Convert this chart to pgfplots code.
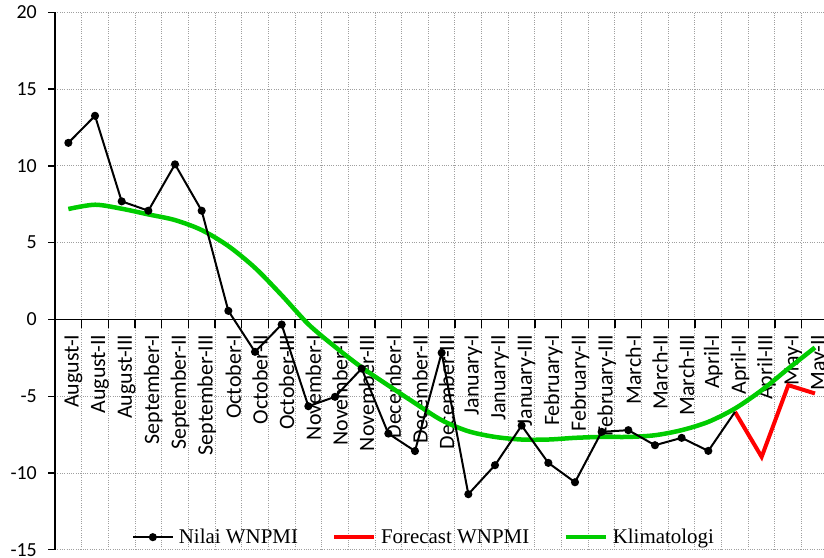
\documentclass[border=0pt]{standalone}
\usepackage{fontspec}
\setmainfont{Liberation Serif}
\newfontfamily\carlito{Carlito}
\usepackage{pgfplots}
\pgfplotsset{compat=1.18}
\definecolor{klgreen}{RGB}{0,204,0}
\begin{document}
\begin{tikzpicture}
\begin{axis}[
  scale only axis, width=773bp, height=537.3bp,
  xmin=-0.5, xmax=28.5, ymin=-15, ymax=20,
  axis x line*=middle, axis y line*=left,
  axis line style={line width=1.5bp, black},
  every inner x axis line/.append style={line width=1.5bp, black},
  every outer y axis line/.append style={line width=1.5bp, black},
  xtick={0,1,...,28},
  xticklabels={August-I,August-II,August-III,September-I,September-II,September-III,October-I,October-II,October-III,November-I,November-II,November-III,December-I,December-II,December-III,January-I,January-II,January-III,February-I,February-II,February-III,March-I,March-II,March-III,April-I,April-II,April-III,May-I,May-II},
  minor xtick={-0.5,0.5,1.5,2.5,3.5,4.5,5.5,6.5,7.5,8.5,9.5,10.5,11.5,12.5,13.5,14.5,15.5,16.5,17.5,18.5,19.5,20.5,21.5,22.5,23.5,24.5,25.5,26.5,27.5,28.5},
  ytick={-15,-10,-5,0,5,10,15,20},
  yticklabels={-15,-10,-5,0,5,10,15,20},
  tick align=outside,
  major tick length=7bp,
  minor tick length=9bp,
  tick style={black, line width=1.3bp},
  major x tick style={draw=none},
  xmajorgrids=false, xminorgrids=true, ymajorgrids=true,
  major grid style={gray!75, line width=1bp, dash pattern=on 1bp off 1.3bp},
  minor grid style={gray!75, line width=1bp, dash pattern=on 1bp off 1.3bp},
  x tick label style={rotate=90, anchor=east, font=\carlito\fontsize{22}{22}\selectfont, inner sep=0pt, yshift=-5bp, execute at end node={\kern8bp}},
  y tick label style={font=\carlito\fontsize{20}{20}\selectfont, inner sep=0pt, execute at end node={\kern11bp}},
  legend columns=3,
  legend style={at={(axis description cs:0.477,0.0235)}, anchor=center, draw=none, fill=none,
    font=\fontsize{21}{21}\selectfont,
    /tikz/every even column/.append style={column sep=32bp},
    /tikz/every odd column/.append style={column sep=3bp}},
  legend image code/.code={\draw[mark repeat=2,mark phase=2,#1] plot coordinates {(0bp,0bp) (20bp,0bp) (40bp,0bp)};},
]
\coordinate (bl) at (rel axis cs:0,0);
\coordinate (tr) at (rel axis cs:1,1);
\addlegendimage{black, line width=2bp, mark=*, mark size=3bp}
\addlegendentry{Nilai WNPMI}
\addlegendimage{red, line width=4bp}
\addlegendentry{Forecast WNPMI}
\addlegendimage{klgreen, line width=4.5bp}
\addlegendentry{Klimatologi}
\addplot[forget plot, klgreen, line width=4.5bp, smooth, tension=0.5] coordinates {
(0,7.19) (1,7.47) (2,7.21) (3,6.84) (4,6.47) (5,5.82) (6,4.78) (7,3.36) (8,1.58) (9,-0.31)
(10,-1.78) (11,-3.12) (12,-4.3) (13,-5.45) (14,-6.56) (15,-7.28) (16,-7.65) (17,-7.82) (18,-7.82) (19,-7.71)
(20,-7.65) (21,-7.65) (22,-7.54) (23,-7.21) (24,-6.67) (25,-5.8) (26,-4.61) (27,-3.2) (28,-1.83)};
\addplot[forget plot, red, line width=4bp] coordinates {
(25,-6.02) (26,-8.95) (27,-4.28) (28,-4.82)};
\addplot[forget plot, black, line width=2bp, mark=*, mark size=3bp, mark indices={1,...,25}] coordinates {
(0,11.5) (1,13.26) (2,7.69) (3,7.08) (4,10.1) (5,7.08) (6,0.56) (7,-2.11) (8,-0.33) (9,-5.65)
(10,-5.04) (11,-3.2) (12,-7.43) (13,-8.57) (14,-2.17) (15,-11.38) (16,-9.49) (17,-6.91) (18,-9.34) (19,-10.6)
(20,-7.32) (21,-7.21) (22,-8.19) (23,-7.71) (24,-8.56) (25,-6.02)};
\end{axis}
\pgfresetboundingbox
\path ([shift={(-55bp,-7.4bp)}]bl) rectangle ([shift={(-4.3bp,12.3bp)}]tr);
\end{tikzpicture}
\end{document}
